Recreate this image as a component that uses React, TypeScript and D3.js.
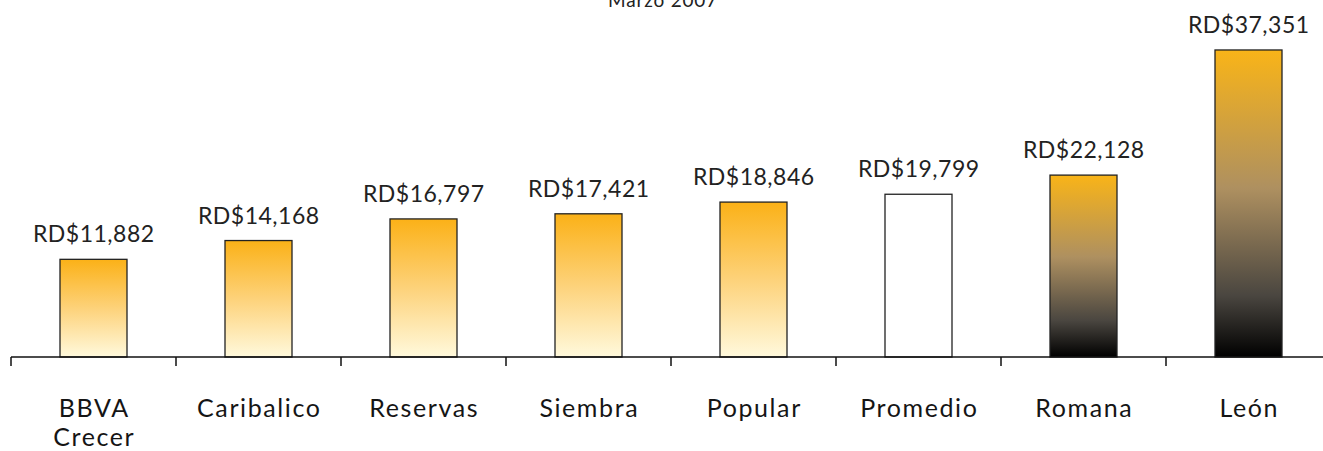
import React from "react";
import * as d3 from "d3";

const categories = ["BBVA Crecer", "Caribalico", "Reservas", "Siembra", "Popular", "Promedio", "Romana", "León"];
const values = [11882, 14168, 16797, 17421, 18846, 19799, 22128, 37351];
const styles = ["gold", "gold", "gold", "gold", "gold", "white", "dark", "dark"];
const title = "Marzo 2007";

const W = 1323;
const H = 451;
const FONT = "Lato, 'Open Sans', sans-serif";

export default function App() {
  const x = d3.scaleBand<string>().domain(categories).range([11, 11 + 165 * categories.length]).padding(0);
  const y = d3.scaleLinear().domain([0, 40000]).range([357, 28.2]);
  const barW = 67;
  const fmt = (v: number) => "RD$" + d3.format(",")(v);
  const catLS = 1.6;
  const valLS = 0.5;

  return (
    <svg width={W} height={H} style={{ position: "absolute", left: 0, top: 0, background: "#fff" }}>
      <defs>
        <linearGradient id="gGold" x1="0" y1="0" x2="0" y2="1">
          <stop offset="0" stopColor="#FBB117" />
          <stop offset="0.5" stopColor="#FDD27A" />
          <stop offset="1" stopColor="#FFF9DC" />
        </linearGradient>
        <linearGradient id="gDark" x1="0" y1="0" x2="0" y2="1">
          <stop offset="0" stopColor="#F9B418" />
          <stop offset="0.45" stopColor="#AE9060" />
          <stop offset="0.8" stopColor="#4A4640" />
          <stop offset="1" stopColor="#000000" />
        </linearGradient>
      </defs>
      <text x={663} y={7} textAnchor="middle" fontFamily={FONT} fontSize={19} letterSpacing={0.8} fill="#222">{title}</text>
      {categories.map((c, i) => {
        const cx = (x(c) as number) + x.bandwidth() / 2;
        const top = y(values[i]);
        const fill = styles[i] === "gold" ? "url(#gGold)" : styles[i] === "dark" ? "url(#gDark)" : "#fff";
        const lines = c.split(" ");
        return (
          <g key={c}>
            <rect x={cx - barW / 2} y={top} width={barW} height={y(0) - top} fill={fill} stroke="#222" strokeWidth={1.3} />
            <text x={cx + valLS / 2} y={top - 17} textAnchor="middle" fontFamily={FONT} fontSize={23} letterSpacing={valLS} fill="#222">{fmt(values[i])}</text>
            {lines.map((l, j) => (
              <text key={j} x={cx + catLS / 2} y={417 + j * 29} textAnchor="middle" fontFamily={FONT} fontSize={25} letterSpacing={catLS} fill="#151515">{l}</text>
            ))}
          </g>
        );
      })}
      <line x1={11} x2={W} y1={357} y2={357} stroke="#111" strokeWidth={1.5} />
      {categories.map((c) => (
        <line key={"t" + c} x1={(x(c) as number)} x2={(x(c) as number)} y1={357} y2={366} stroke="#111" strokeWidth={1.5} />
      ))}
    </svg>
  );
}
